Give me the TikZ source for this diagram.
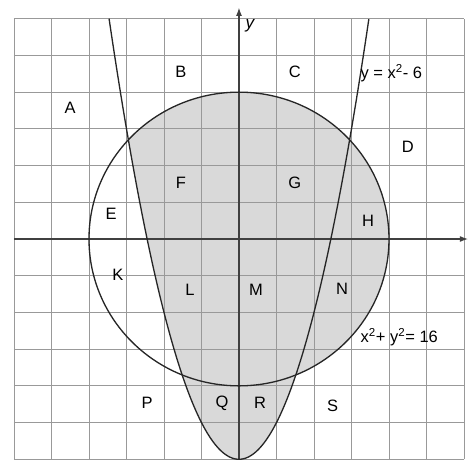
\documentclass[tikz,border=0pt]{standalone}
\usepackage{fontspec}
\setmainfont{Liberation Sans}
\usepackage{tikz}
\usetikzlibrary{arrows.meta}

\begin{document}
\begin{tikzpicture}[
  yscale=0.979,
  font=\fontsize{12.5}{14}\selectfont,
  gridline/.style={
    draw=black!40,
    line width=0.6pt
  },
  axis/.style={
    -{Latex[length=2.2mm,width=1.6mm]},
    draw=black!75,
    line width=0.8pt
  },
  curve/.style={
    draw=black!85,
    line width=1pt
  },
  region/.style={
    fill=black!15
  },
  tag/.style={
    inner sep=1pt,
    text=black
  }
]
\useasboundingbox (-6.373,-6.0) rectangle (6.107,6.51);

% Shaded region
\fill[region] (137.52:4) arc[start angle=137.52, end angle=-67.73, radius=4]
  -- plot[domain=1.5161:-2.9498, samples=120] (\x,{\x*\x-6}) -- cycle;

% Grid
\draw[gridline] (-6,-6) grid (6,6);

% Axes
\coordinate (xl) at (-6,0);
\coordinate (xr) at (6.107,0);
\coordinate (yb) at (0,-6);
\coordinate (yt) at (0,6.3);
\draw[axis] (xl) -- (xr);
\draw[axis] (yb) -- (yt);
\node[font=\itshape\fontsize{13}{14}\selectfont, anchor=west] (ylab) at (0.05,5.8) {y};
\node[font=\itshape\fontsize{13}{14}\selectfont, anchor=west] (xlab) at (6.0,0.32) {x};

% Curves
\draw[curve] (0,0) circle (4);
\draw[curve] plot[domain=-3.4641:3.4641, samples=160] (\x,{\x*\x-6});

% Equations
\node[tag, anchor=west] (para) at (3.2,4.52) {y = x\textsuperscript{2}- 6};
\node[tag, anchor=west] (circ) at (3.2,-2.67) {x\textsuperscript{2}+ y\textsuperscript{2}= 16};

% Region letters
\node[tag] (A) at (-4.5,3.57) {A};
\node[tag] (B) at (-1.55,4.55) {B};
\node[tag] (C) at (1.49,4.55) {C};
\node[tag] (D) at (4.5,2.5) {D};
\node[tag] (E) at (-3.41,0.68) {E};
\node[tag] (F) at (-1.55,1.53) {F};
\node[tag] (G) at (1.49,1.53) {G};
\node[tag] (H) at (3.44,0.49) {H};
\node[tag] (K) at (-3.23,-0.98) {K};
\node[tag] (L) at (-1.31,-1.39) {L};
\node[tag] (M) at (0.45,-1.39) {M};
\node[tag] (N) at (2.75,-1.36) {N};
\node[tag] (P) at (-2.45,-4.47) {P};
\node[tag] (Q) at (-0.45,-4.47) {Q};
\node[tag] (R) at (0.56,-4.47) {R};
\node[tag] (S) at (2.5,-4.55) {S};

\end{tikzpicture}
\end{document}
